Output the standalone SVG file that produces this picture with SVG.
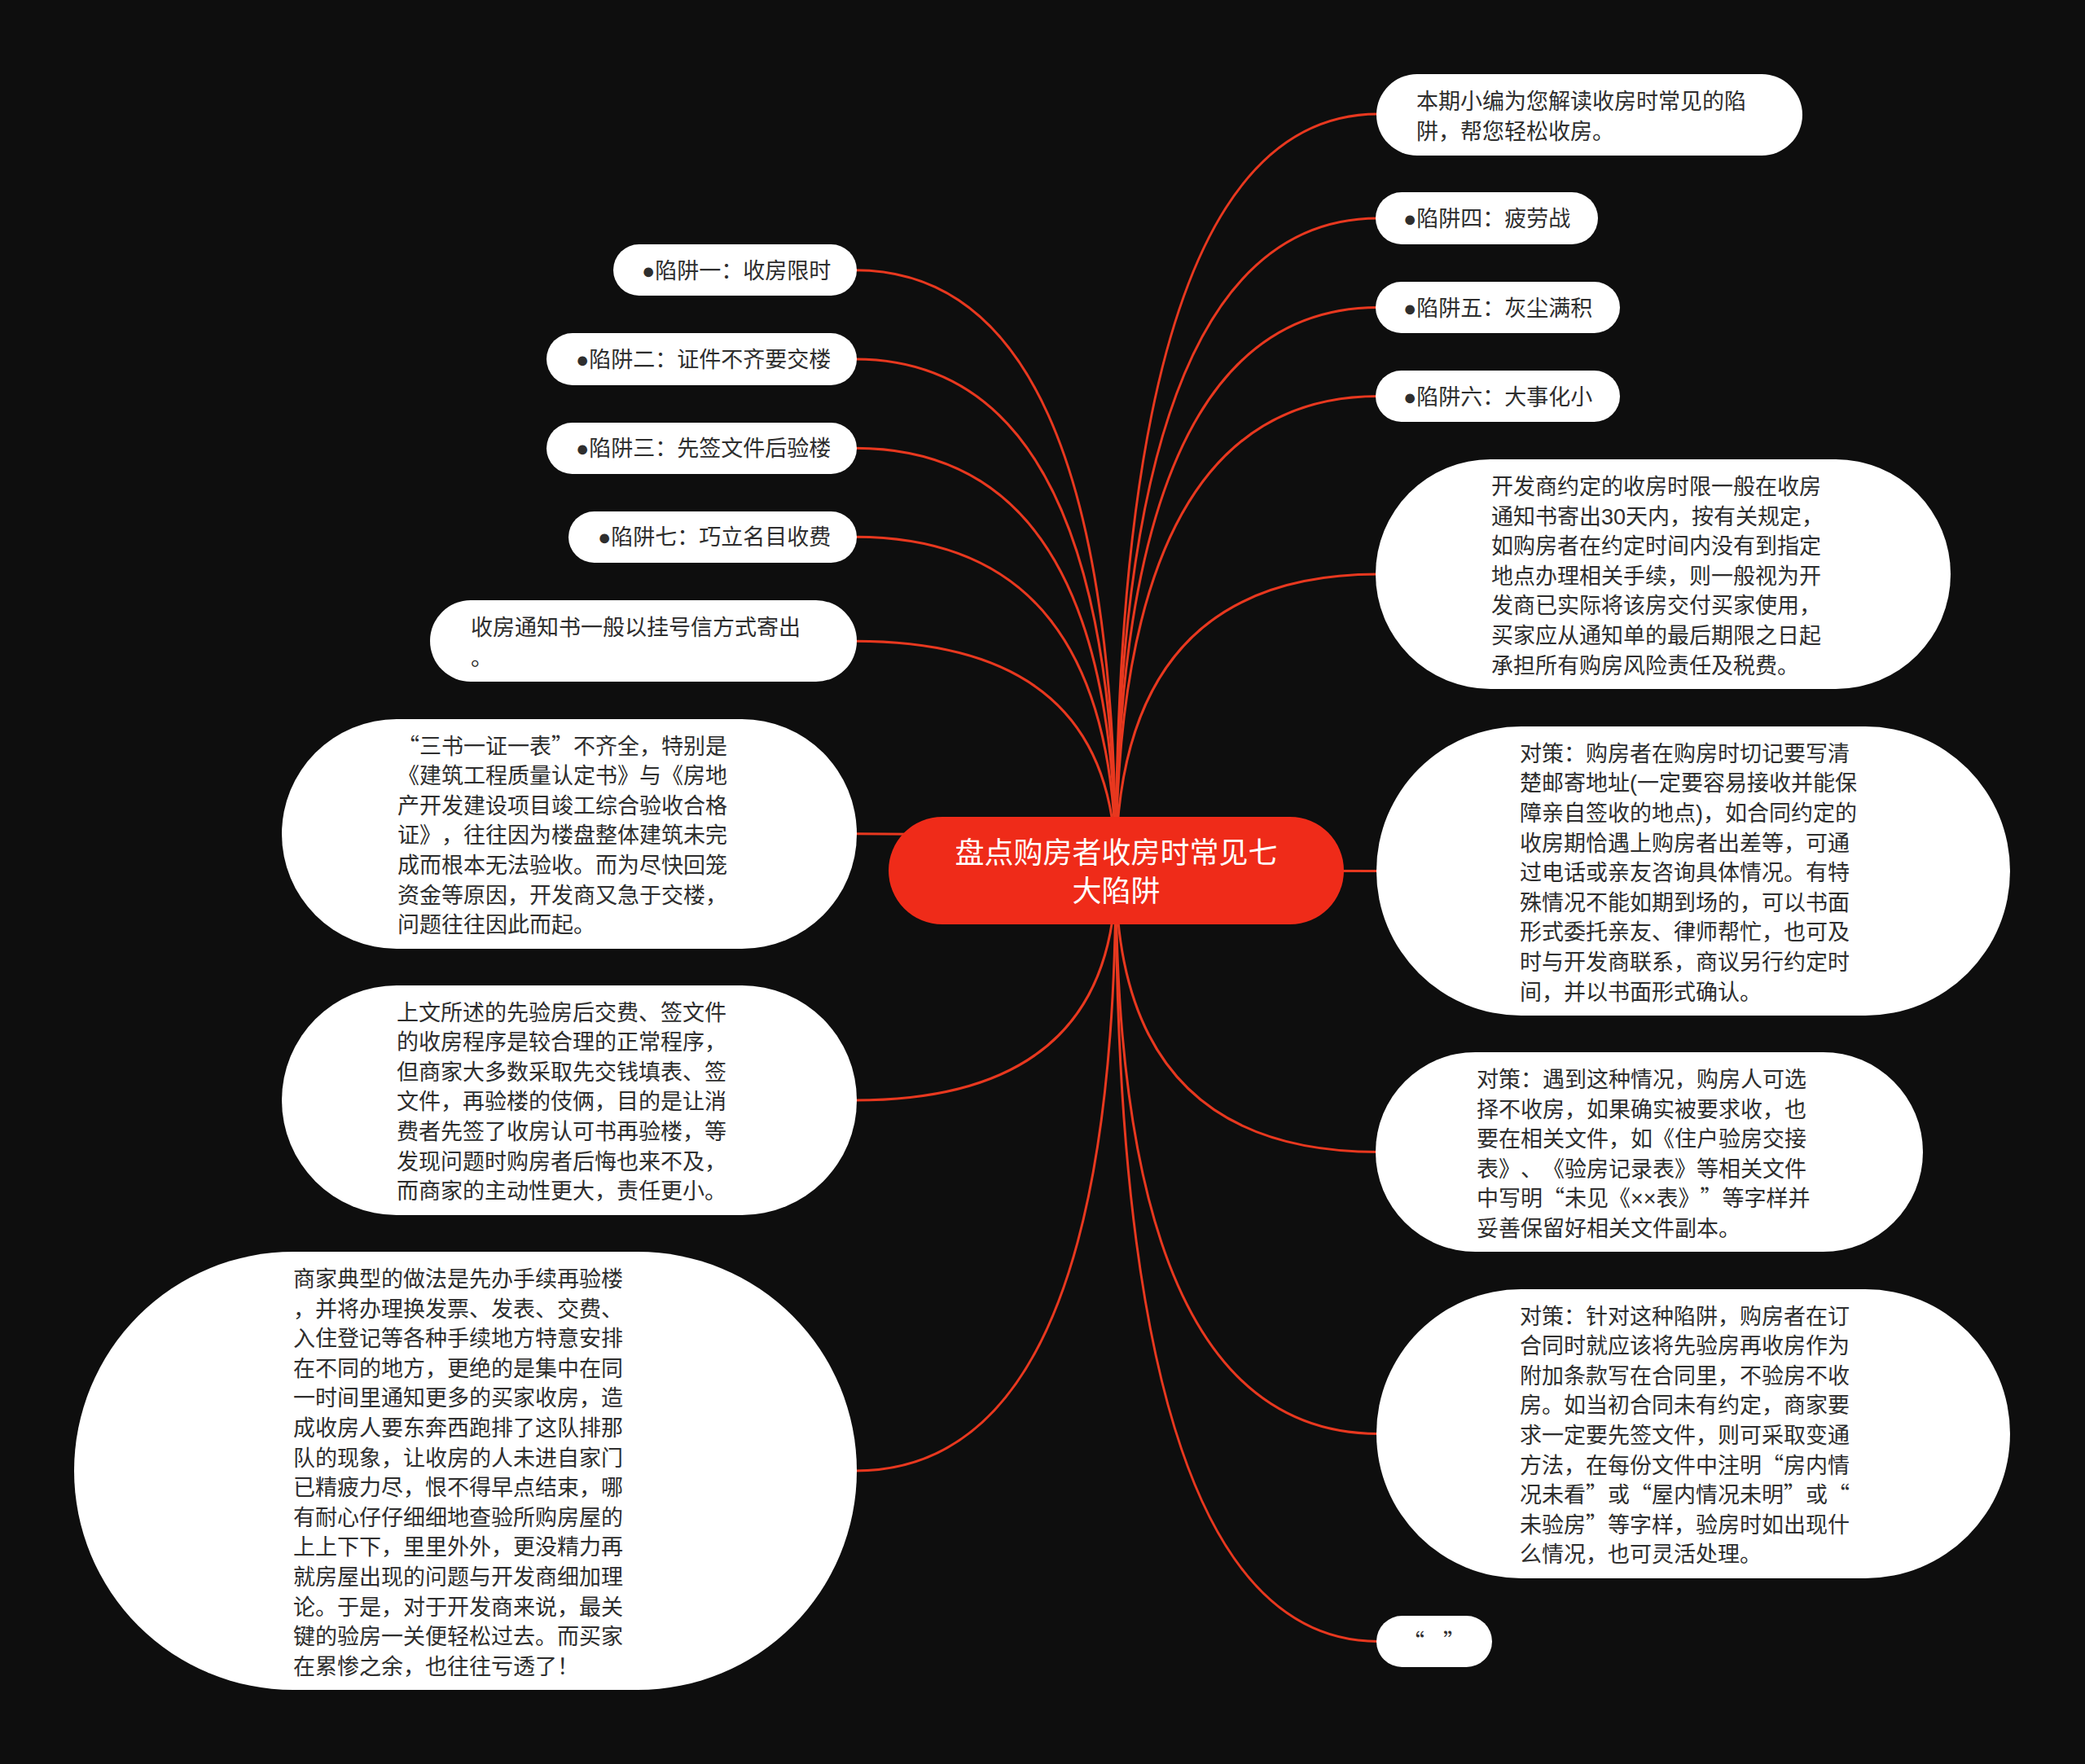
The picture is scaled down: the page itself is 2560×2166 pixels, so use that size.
<svg xmlns="http://www.w3.org/2000/svg" width="2560" height="2166" viewBox="0 0 2560 2166">
<style>
.bg{fill:#0e0e0e}
.lk{fill:none;stroke:#e8381f;stroke-width:3}
.box{fill:#ffffff}
.t{font-family:"Liberation Sans","Noto Sans CJK SC",sans-serif;font-size:27px;fill:#2e2e2e;text-spacing-trim:space-all}
.q{font-family:"Noto Sans CJK SC",sans-serif;font-feature-settings:"fwid" 1}
.ct{font-family:"Liberation Sans","Noto Sans CJK SC",sans-serif;font-size:36px;fill:#ffffff;text-anchor:middle}
.root{fill:#ef2b19}
</style>
<rect class="bg" x="0" y="0" width="2560" height="2166"/>
<g id="connectors">
<path class="lk" d="M1370,1069 Q1370,140 1692,140"/>
<path class="lk" d="M1370,1069 Q1370,268 1692,268"/>
<path class="lk" d="M1370,1069 Q1370,377.5 1692,377.5"/>
<path class="lk" d="M1370,1069 Q1370,486.5 1692,486.5"/>
<path class="lk" d="M1370,1069 Q1370,705 1692,705"/>
<path class="lk" d="M1370,1069 Q1370,1069.5 1692,1069.5"/>
<path class="lk" d="M1370,1069 Q1370,1414.5 1692,1414.5"/>
<path class="lk" d="M1370,1069 Q1370,1760.5 1692,1760.5"/>
<path class="lk" d="M1370,1069 Q1370,2015.5 1692,2015.5"/>
<path class="lk" d="M1370,1069 Q1370,331.7 1050,331.7"/>
<path class="lk" d="M1370,1069 Q1370,441 1050,441"/>
<path class="lk" d="M1370,1069 Q1370,550.3 1050,550.3"/>
<path class="lk" d="M1370,1069 Q1370,659.3 1050,659.3"/>
<path class="lk" d="M1370,1069 Q1370,787.3 1050,787.3"/>
<path class="lk" d="M1370,1069 Q1370,1023.8 1050,1023.8"/>
<path class="lk" d="M1370,1069 Q1370,1351 1050,1351"/>
<path class="lk" d="M1370,1069 Q1370,1806 1050,1806"/>
</g>
<g id="root">
<rect class="root" x="1091" y="1003" width="559" height="132" rx="66"/>
<text class="ct"><tspan x="1370.5" y="1060">盘点购房者收房时常见七</tspan><tspan x="1370.5" y="1107">大陷阱</tspan></text>
</g>
<g id="r1">
<rect class="box" x="1690" y="91" width="523" height="100" rx="50"/>
<text class="t"><tspan x="1739" y="133.5">本期小编为您解读收房时常见的陷</tspan><tspan x="1739" y="170.5">阱，帮您轻松收房。</tspan></text>
</g>
<g id="r2">
<rect class="box" x="1689" y="236" width="273" height="64" rx="32"/>
<text class="t" x="1723" y="278">●陷阱四：疲劳战</text>
</g>
<g id="r3">
<rect class="box" x="1689" y="346" width="300" height="63" rx="31.5"/>
<text class="t" x="1723" y="387.5">●陷阱五：灰尘满积</text>
</g>
<g id="r4">
<rect class="box" x="1689" y="455" width="300" height="63" rx="31.5"/>
<text class="t" x="1723" y="496.5">●陷阱六：大事化小</text>
</g>
<g id="r5">
<rect class="box" x="1689" y="564" width="706" height="282" rx="141"/>
<text class="t"><tspan x="1831" y="607">开发商约定的收房时限一般在收房</tspan><tspan x="1831" dy="36.6">通知书寄出30天内，按有关规定，</tspan><tspan x="1831" dy="36.6">如购房者在约定时间内没有到指定</tspan><tspan x="1831" dy="36.6">地点办理相关手续，则一般视为开</tspan><tspan x="1831" dy="36.6">发商已实际将该房交付买家使用，</tspan><tspan x="1831" dy="36.6">买家应从通知单的最后期限之日起</tspan><tspan x="1831" dy="36.6">承担所有购房风险责任及税费。</tspan></text>
</g>
<g id="r6">
<rect class="box" x="1690" y="892" width="778" height="355" rx="177.5"/>
<text class="t"><tspan x="1866" y="934.8">对策：购房者在购房时切记要写清</tspan><tspan x="1866" dy="36.6">楚邮寄地址(一定要容易接收并能保</tspan><tspan x="1866" dy="36.6">障亲自签收的地点)，如合同约定的</tspan><tspan x="1866" dy="36.6">收房期恰遇上购房者出差等，可通</tspan><tspan x="1866" dy="36.6">过电话或亲友咨询具体情况。有特</tspan><tspan x="1866" dy="36.6">殊情况不能如期到场的，可以书面</tspan><tspan x="1866" dy="36.6">形式委托亲友、律师帮忙，也可及</tspan><tspan x="1866" dy="36.6">时与开发商联系，商议另行约定时</tspan><tspan x="1866" dy="36.6">间，并以书面形式确认。</tspan></text>
</g>
<g id="r7">
<rect class="box" x="1689" y="1292" width="672" height="245" rx="122.5"/>
<text class="t"><tspan x="1813" y="1335">对策：遇到这种情况，购房人可选</tspan><tspan x="1813" dy="36.6">择不收房，如果确实被要求收，也</tspan><tspan x="1813" dy="36.6">要在相关文件，如《住户验房交接</tspan><tspan x="1813" dy="36.6">表》、《验房记录表》等相关文件</tspan><tspan x="1813" dy="36.6">中写明<tspan class="q">“</tspan>未见《××表》<tspan class="q">”</tspan>等字样并</tspan><tspan x="1813" dy="36.6">妥善保留好相关文件副本。</tspan></text>
</g>
<g id="r8">
<rect class="box" x="1690" y="1583" width="778" height="355" rx="177.5"/>
<text class="t"><tspan x="1866" y="1625.5">对策：针对这种陷阱，购房者在订</tspan><tspan x="1866" dy="36.6">合同时就应该将先验房再收房作为</tspan><tspan x="1866" dy="36.6">附加条款写在合同里，不验房不收</tspan><tspan x="1866" dy="36.6">房。如当初合同未有约定，商家要</tspan><tspan x="1866" dy="36.6">求一定要先签文件，则可采取变通</tspan><tspan x="1866" dy="36.6">方法，在每份文件中注明<tspan class="q">“</tspan>房内情</tspan><tspan x="1866" dy="36.6">况未看<tspan class="q">”</tspan>或<tspan class="q">“</tspan>屋内情况未明<tspan class="q">”</tspan>或<tspan class="q">“</tspan></tspan><tspan x="1866" dy="36.6">未验房<tspan class="q">”</tspan>等字样，验房时如出现什</tspan><tspan x="1866" dy="36.6">么情况，也可灵活处理。</tspan></text>
</g>
<g id="r9">
<rect class="box" x="1690" y="1984" width="142" height="63" rx="31.5"/>
<text class="t" y="2025.5"><tspan class="q" x="1722">“</tspan><tspan class="q" x="1772">”</tspan></text>
</g>
<g id="l1">
<rect class="box" x="753" y="300" width="299" height="63" rx="31.5"/>
<text class="t" x="788" y="341.7">●陷阱一：收房限时</text>
</g>
<g id="l2">
<rect class="box" x="671" y="409" width="381" height="64" rx="32"/>
<text class="t" x="707" y="451">●陷阱二：证件不齐要交楼</text>
</g>
<g id="l3">
<rect class="box" x="671" y="519" width="381" height="63" rx="31.5"/>
<text class="t" x="707" y="560.3">●陷阱三：先签文件后验楼</text>
</g>
<g id="l4">
<rect class="box" x="698" y="628" width="354" height="63" rx="31.5"/>
<text class="t" x="734" y="669.3">●陷阱七：巧立名目收费</text>
</g>
<g id="l5">
<rect class="box" x="528" y="737" width="524" height="100" rx="50"/>
<text class="t"><tspan x="578" y="780">收房通知书一般以挂号信方式寄出</tspan><tspan x="578" dy="36.6">。</tspan></text>
</g>
<g id="l6">
<rect class="box" x="346" y="883" width="706" height="282" rx="141"/>
<text class="t"><tspan x="488" y="925.5"><tspan class="q">“</tspan>三书一证一表<tspan class="q">”</tspan>不齐全，特别是</tspan><tspan x="488" dy="36.6">《建筑工程质量认定书》与《房地</tspan><tspan x="488" dy="36.6">产开发建设项目竣工综合验收合格</tspan><tspan x="488" dy="36.6">证》，往往因为楼盘整体建筑未完</tspan><tspan x="488" dy="36.6">成而根本无法验收。而为尽快回笼</tspan><tspan x="488" dy="36.6">资金等原因，开发商又急于交楼，</tspan><tspan x="488" dy="36.6">问题往往因此而起。</tspan></text>
</g>
<g id="l7">
<rect class="box" x="346" y="1210" width="706" height="282" rx="141"/>
<text class="t"><tspan x="487" y="1252.5">上文所述的先验房后交费、签文件</tspan><tspan x="487" dy="36.6">的收房程序是较合理的正常程序，</tspan><tspan x="487" dy="36.6">但商家大多数采取先交钱填表、签</tspan><tspan x="487" dy="36.6">文件，再验楼的伎俩，目的是让消</tspan><tspan x="487" dy="36.6">费者先签了收房认可书再验楼，等</tspan><tspan x="487" dy="36.6">发现问题时购房者后悔也来不及，</tspan><tspan x="487" dy="36.6">而商家的主动性更大，责任更小。</tspan></text>
</g>
<g id="l8">
<rect class="box" x="91" y="1537" width="961" height="538" rx="269"/>
<text class="t"><tspan x="360" y="1580">商家典型的做法是先办手续再验楼</tspan><tspan x="360" dy="36.6">，并将办理换发票、发表、交费、</tspan><tspan x="360" dy="36.6">入住登记等各种手续地方特意安排</tspan><tspan x="360" dy="36.6">在不同的地方，更绝的是集中在同</tspan><tspan x="360" dy="36.6">一时间里通知更多的买家收房，造</tspan><tspan x="360" dy="36.6">成收房人要东奔西跑排了这队排那</tspan><tspan x="360" dy="36.6">队的现象，让收房的人未进自家门</tspan><tspan x="360" dy="36.6">已精疲力尽，恨不得早点结束，哪</tspan><tspan x="360" dy="36.6">有耐心仔仔细细地查验所购房屋的</tspan><tspan x="360" dy="36.6">上上下下，里里外外，更没精力再</tspan><tspan x="360" dy="36.6">就房屋出现的问题与开发商细加理</tspan><tspan x="360" dy="36.6">论。于是，对于开发商来说，最关</tspan><tspan x="360" dy="36.6">键的验房一关便轻松过去。而买家</tspan><tspan x="360" dy="36.6">在累惨之余，也往往亏透了！</tspan></text>
</g>
</svg>
